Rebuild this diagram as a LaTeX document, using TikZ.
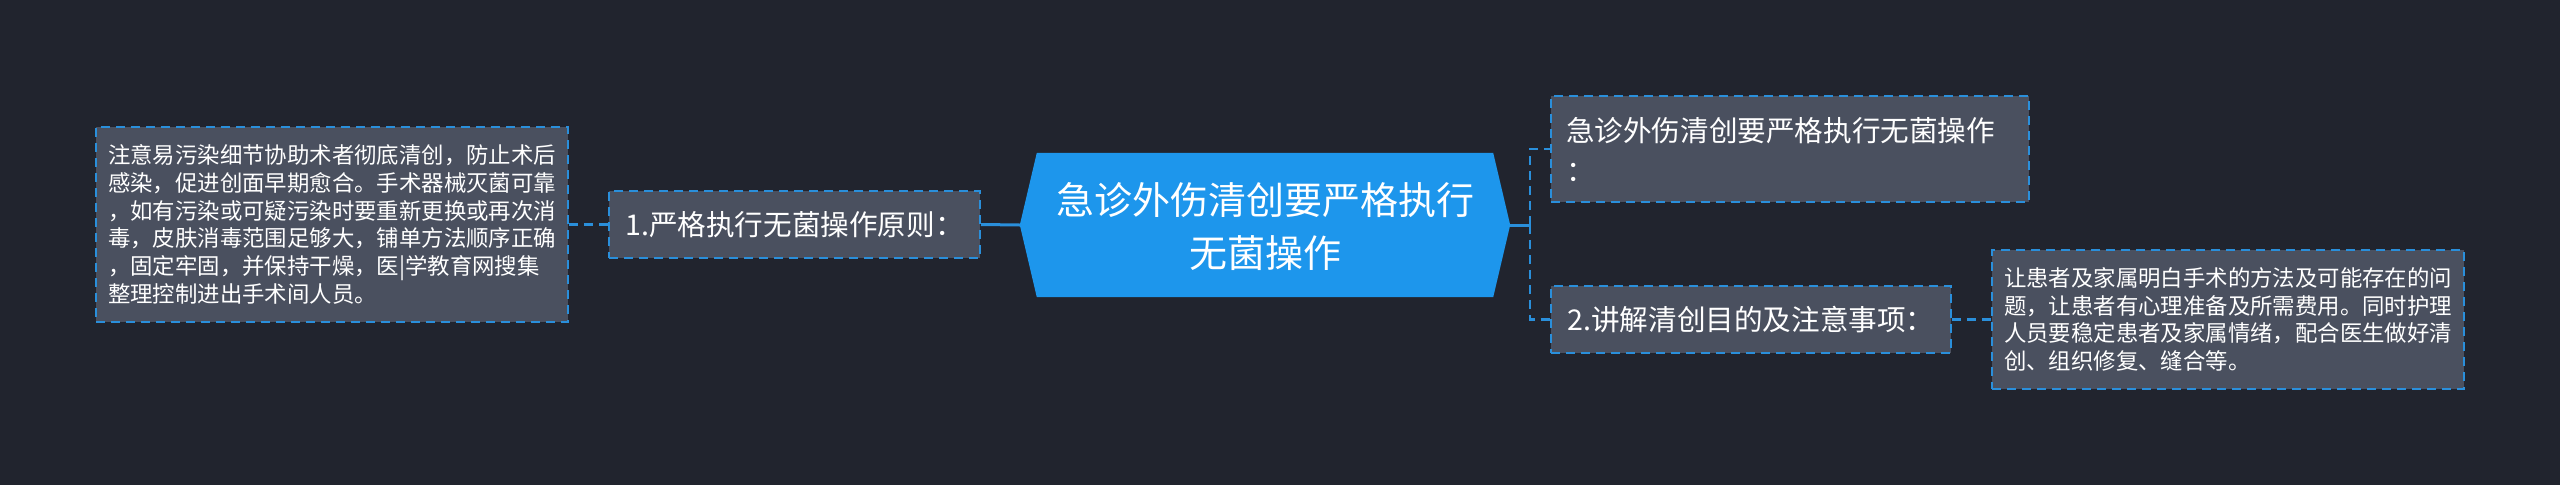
\documentclass[tikz,border=0pt]{standalone}
\usepackage{fontspec}
\setmainfont{Noto Sans CJK SC}
\definecolor{bgc}{HTML}{21242E}
\definecolor{boxc}{HTML}{4A505F}
\definecolor{edgec}{HTML}{2A8FDB}
\definecolor{rootc}{HTML}{1D96EC}
\tikzset{
  leafbox/.style={draw=edgec, fill=boxc, line width=2pt, dash pattern=on 9pt off 6pt,
    text=white, inner xsep=0pt, inner ysep=0pt, align=left},
  smalltext/.style={font=\fontsize{22.4pt}{27.8pt}\selectfont},
  midtext/.style={font=\fontsize{28.6pt}{40pt}\selectfont},
  dashlink/.style={draw=edgec, line width=2.5pt, dash pattern=on 9pt off 6pt},
  solidlink/.style={draw=edgec, line width=3pt},
}
\begin{document}
\begin{tikzpicture}[x=1pt,y=-1pt]
\useasboundingbox[fill=bgc] (0,0) rectangle (2560,485);

% root hexagon
\node[minimum width=490pt, minimum height=144pt, inner sep=0pt] (root) at (1265,225) {};
\fill[rootc] (root.west) -- ([xshift=17pt]root.north west) -- ([xshift=-17pt]root.north east)
  -- (root.east) -- ([xshift=-17pt]root.south east) -- ([xshift=17pt]root.south west) -- cycle;
\node[text=white, align=center, font=\fontsize{38pt}{53pt}\selectfont] (roottext) at (1265,226.5)
  {急诊外伤清创要严格执行\\无菌操作};

% left branch
\node[leafbox, midtext, minimum width=371pt, minimum height=67pt] (b1) at (794.5,224.5)
  {1.严格执行无菌操作原则：};
\node[leafbox, smalltext, minimum width=472pt, minimum height=195pt] (d1) at (332,224.5)
  {注意易污染细节协助术者彻底清创，防止术后\\
   感染，促进创面早期愈合。手术器械灭菌可靠\\
   ，如有污染或可疑污染时要重新更换或再次消\\
   毒，皮肤消毒范围足够大，铺单方法顺序正确\\
   ，固定牢固，并保持干燥，医|学教育网搜集\\
   整理控制进出手术间人员。};

% right branch
\node[leafbox, midtext, text width=448pt, inner xsep=15pt, minimum height=106pt] (top) at (1790,149)
  {急诊外伤清创要严格执行无菌操作\\：};
\node[leafbox, midtext, minimum width=400pt, minimum height=67pt] (b2) at (1751,319.5)
  {2.讲解清创目的及注意事项：};
\node[leafbox, smalltext, minimum width=472pt, minimum height=139pt] (d2) at (2228,319.5)
  {让患者及家属明白手术的方法及可能存在的问\\
   题，让患者有心理准备及所需费用。同时护理\\
   人员要稳定患者及家属情绪，配合医生做好清\\
   创、组织修复、缝合等。};

\coordinate (J) at (1530,225);

% connectors
\draw[dashlink] (d1.east) -- (b1.west);
\draw[solidlink] (b1.east) -- (root.west);
\draw[solidlink] (root.east) -- (J);
\draw[dashlink] (J) |- (top.west);
\draw[dashlink] (J) |- (b2.west);
\draw[dashlink] (b2.east) -- (d2.west);
\end{tikzpicture}
\end{document}
